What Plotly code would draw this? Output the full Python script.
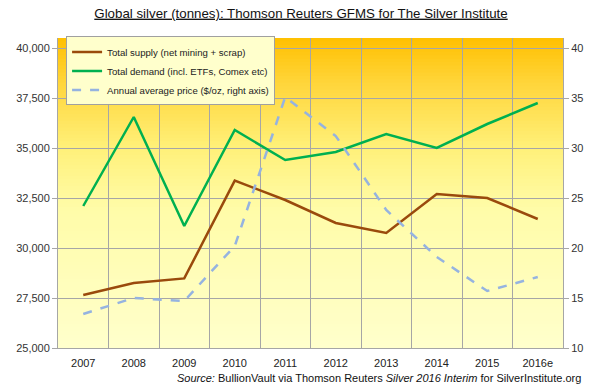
import plotly.graph_objects as go

years = ["2007", "2008", "2009", "2010", "2011", "2012", "2013", "2014", "2015", "2016e"]
supply = [27650, 28250, 28480, 33370, 32400, 31250, 30750, 32700, 32500, 31450]
demand = [32100, 36550, 31100, 35900, 34400, 34800, 35700, 35000, 36200, 37250]
price = [13.4, 15.0, 14.7, 20.2, 35.1, 31.2, 23.8, 19.1, 15.7, 17.1]

left_ticks = [25000, 27500, 30000, 32500, 35000, 37500, 40000]
right_ticks = [10, 15, 20, 25, 30, 35, 40]

FONT = "Liberation Sans, Arial, sans-serif"
GRID = "#A6A6A6"

fig = go.Figure()
fig.add_trace(go.Scatter(x=years, y=supply, mode="lines", name="Total supply (net mining + scrap)",
                         line=dict(color="#9A4A0C", width=2.5)))
fig.add_trace(go.Scatter(x=years, y=demand, mode="lines", name="Total demand (incl. ETFs, Comex etc)",
                         line=dict(color="#00B050", width=2.5)))
fig.add_trace(go.Scatter(x=years, y=price, mode="lines", name="Annual average price ($/oz, right axis)",
                         line=dict(color="#95B3E0", width=2.5, dash="dash"), yaxis="y2"))

# vertical gradient background for the plot area
stops = [(0.0, (255, 255, 204)), (0.45, (255, 252, 168)), (0.65, (255, 240, 120)),
         (0.85, (255, 214, 60)), (1.0, (255, 192, 0))]

def col(t):
    for (t0, c0), (t1, c1) in zip(stops[:-1], stops[1:]):
        if t0 <= t <= t1:
            f = (t - t0) / (t1 - t0)
            return "rgb(%d,%d,%d)" % tuple(round(a + (b - a) * f) for a, b in zip(c0, c1))
    return "rgb(255,192,0)"

N = 90
shapes = []
for i in range(N):
    y0 = i / N
    y1 = (i + 1) / N
    shapes.append(dict(type="rect", xref="paper", yref="paper", x0=0, x1=1, y0=y0, y1=min(1, y1 + 0.004),
                       fillcolor=col((y0 + y1) / 2), line=dict(width=0), layer="below"))

fig.update_layout(
    width=594, height=392,
    margin=dict(l=58, r=31, t=38, b=44),
    paper_bgcolor="white", plot_bgcolor="rgba(0,0,0,0)",
    shapes=shapes,
    font=dict(family=FONT, size=11, color="#333333"),
    title=dict(text="<u>Global silver (tonnes): Thomson Reuters GFMS for The Silver Institute</u>",
               x=301 / 594, xref="container", xanchor="center", y=1 - 13 / 392, yanchor="middle",
               font=dict(family=FONT, size=13.3, color="#111111")),
    xaxis=dict(type="category", range=[-0.5, 9.5], showgrid=True, gridcolor=GRID, gridwidth=1,
               tickson="boundaries", ticks="", ticklabelstandoff=5,
               showline=True, linecolor=GRID, linewidth=1,
               tickfont=dict(size=11, color="#222222"), zeroline=False),
    yaxis=dict(range=[25000, 40500], tickvals=left_ticks, tickformat=",", showgrid=True,
               gridcolor=GRID, gridwidth=1, ticks="outside", ticklen=5, tickcolor=GRID,
               showline=True, linecolor=GRID, linewidth=1, zeroline=False,
               tickfont=dict(size=11, color="#333333")),
    yaxis2=dict(range=[10, 41], tickvals=right_ticks, overlaying="y", side="right", showgrid=False,
                ticks="outside", ticklen=5, tickcolor=GRID, showline=True, linecolor=GRID,
                linewidth=1, zeroline=False, tickfont=dict(size=11, color="#333333")),
    legend=dict(x=0.016, y=1.005, xanchor="left", yanchor="top", bgcolor="#FFFFCC",
                bordercolor="#A0A0A0", borderwidth=1, font=dict(size=9.6, color="#222222"),
                tracegroupgap=0, itemwidth=30),
    showlegend=True,
    annotations=[dict(text="<i>Source:</i> BullionVault via Thomson Reuters <i>Silver 2016 Interim</i> for SilverInstitute.org",
                      xref="paper", yref="paper", x=(583 - 58) / 505, y=-30 / 310, xanchor="right",
                      yanchor="middle", showarrow=False, font=dict(size=11, color="#111111"))],
)

fig.write_html("out.html", post_script="document.body.style.margin='0';",
               config={"displayModeBar": False})
